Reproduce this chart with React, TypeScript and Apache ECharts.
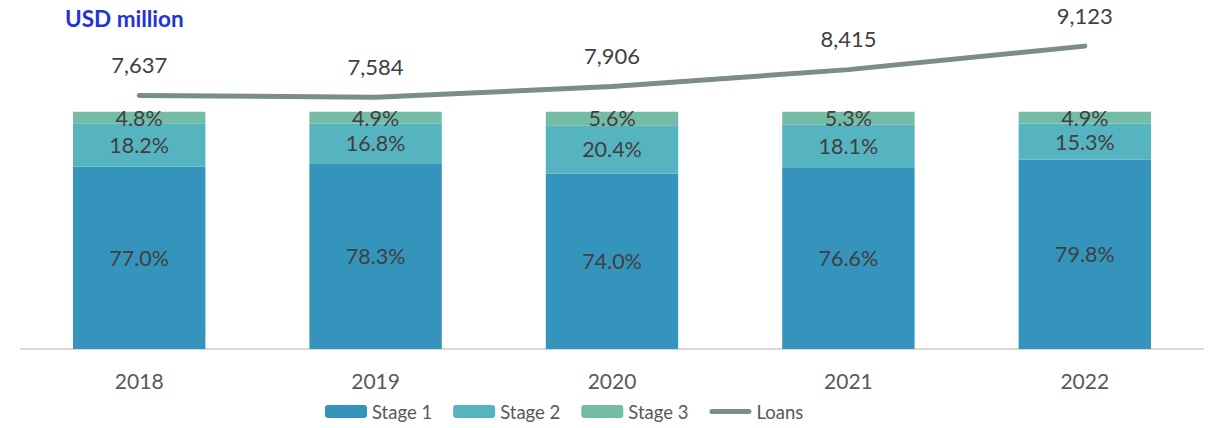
import React, { useEffect, useRef } from "react";
import * as echarts from "echarts";

const years = ["2018", "2019", "2020", "2021", "2022"];
const stage1 = [77.0, 78.3, 74.0, 76.6, 79.8];
const stage2 = [18.2, 16.8, 20.4, 18.1, 15.3];
const stage3 = [4.8, 4.9, 5.6, 5.3, 4.9];
const loans = [7637, 7584, 7906, 8415, 9123];

const FONT = "Lato";

export default function App() {
  const ref = useRef<HTMLDivElement>(null);
  useEffect(() => {
    if (!ref.current) return;
    const chart = echarts.init(ref.current, undefined, { renderer: "svg" });
    const pctLabel = {
      show: true,
      position: "inside" as const,
      fontFamily: FONT,
      fontSize: 21.5,
      color: "#404040",
      formatter: (p: any) => p.value.toFixed(1) + "%",
    };
    const barCommon = {
      type: "bar" as const,
      stack: "pct",
      barWidth: "56%",
      yAxisIndex: 0,
      label: pctLabel,
    };
    chart.setOption({
      animation: false,
      textStyle: { fontFamily: FONT },
      graphic: [
        {
          type: "text",
          left: 65,
          top: 7,
          style: {
            text: "USD million",
            fontFamily: FONT,
            fontWeight: "bold",
            fontSize: 22.5,
            fill: "#1f33d8",
          },
        },
      ],
      grid: { left: 21, right: 20, top: 17, bottom: 79 },
      legend: {
        bottom: 2,
        left: 320,
        itemWidth: 42,
        itemHeight: 13,
        itemGap: 21,
        textStyle: { fontFamily: FONT, fontSize: 18.5, color: "#595959" },
        data: [
          "Stage 1",
          "Stage 2",
          "Stage 3",
          {
            name: "Loans",
            icon: "path://M2.5,0 L39.5,0 A2.5,2.5 0 0 1 39.5,5 L2.5,5 A2.5,2.5 0 0 1 2.5,0 Z",
          },
        ],
      },
      xAxis: {
        type: "category",
        data: years,
        axisLine: { show: true, lineStyle: { color: "#d9d9d9", width: 2 } },
        axisTick: { show: false },
        axisLabel: { fontFamily: FONT, fontSize: 21, color: "#595959", margin: 21 },
      },
      yAxis: [
        { type: "value", min: 0, max: 140, show: false, splitLine: { show: false } },
        { type: "value", min: 0, max: 10000, show: false, splitLine: { show: false } },
      ],
      series: [
        { ...barCommon, name: "Stage 1", data: stage1, itemStyle: { color: "#3594bb" } },
        { ...barCommon, name: "Stage 2", data: stage2, itemStyle: { color: "#56b4c0" } },
        { ...barCommon, name: "Stage 3", data: stage3, itemStyle: { color: "#74bca5" } },
        {
          name: "Loans",
          type: "line",
          yAxisIndex: 1,
          data: loans,
          symbol: "circle",
          symbolSize: 0.01,
          showSymbol: true,
          lineStyle: { color: "#7b8c8c", width: 5, cap: "round" },
          itemStyle: { color: "#7b8c8c" },
          label: {
            show: true,
            position: "top",
            distance: 20,
            fontFamily: FONT,
            fontSize: 22,
            color: "#404040",
            formatter: (p: any) => p.value.toLocaleString("en-US"),
          },
        },
      ],
    });
    return () => chart.dispose();
  }, []);
  return (
    <div
      ref={ref}
      style={{ position: "absolute", left: 0, top: 0, width: 1223, height: 428 }}
    />
  );
}
